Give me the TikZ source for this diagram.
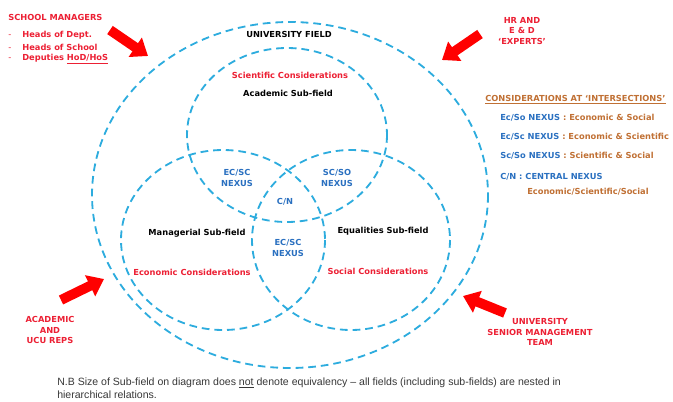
\documentclass[tikz,border=0pt]{standalone}
\usepackage{fontspec}
\setmainfont{Liberation Sans}
\newfontfamily\labelfont[Ligatures=TeX]{DejaVu Sans}
\usetikzlibrary{arrows.meta}
\definecolor{fieldblue}{RGB}{45,172,222}
\definecolor{considred}{RGB}{236,32,52}
\definecolor{arrowred}{RGB}{255,0,0}
\definecolor{nexusblue}{RGB}{42,112,192}
\definecolor{legendbrown}{RGB}{192,112,52}
\definecolor{notegray}{RGB}{55,55,55}

\tikzset{
  field/.style={draw=fieldblue, line width=1.3pt, dash pattern=on 5.5pt off 3.5pt},
  lbl/.style={font=\labelfont\fontsize{5.9}{7.5}\selectfont\bfseries, inner sep=0pt, align=center},
  redlbl/.style={lbl, text=considred},
  nexus/.style={lbl, text=nexusblue},
  keylbl/.style={lbl, anchor=west},
  pusharrow/.style={draw=arrowred, line width=7pt, -{Triangle[width=16pt,length=11pt]}}
}

\begin{document}
\begin{tikzpicture}[x=0.025cm, y=-0.025cm]
    \useasboundingbox (0,0) rectangle (673,402);
    \clip (0,0) rectangle (673,402);

    % fields
    \draw[field] (290,195) ellipse [x radius=198, y radius=173];
    \draw[field] (287,135) ellipse [x radius=100, y radius=87];
    \draw[field] (223,240) ellipse [x radius=102, y radius=90];
    \draw[field] (351,240) ellipse [x radius=99, y radius=90];

    \node[lbl] (univ) at (289,34) {UNIVERSITY FIELD};
    \node[redlbl] (scicons) at (290,75) {Scientific Considerations};
    \node[lbl] (academic) at (288,93) {Academic Sub-field};
    \node[lbl] (managerial) at (197,233) {Managerial Sub-field};
    \node[redlbl] (econcons) at (192,272) {Economic Considerations};
    \node[lbl] (equalities) at (383,231) {Equalities Sub-field};
    \node[redlbl] (socialcons) at (378,271) {Social Considerations};

    % intersections
    \node[nexus] (ecsc) at (237,178) {EC/SC\\NEXUS};
    \node[nexus] (scso) at (337,178) {SC/SO\\NEXUS};
    \node[nexus] (cn) at (285,202) {C/N};
    \node[nexus] (ecsc2) at (288,248) {EC/SC\\NEXUS};

    % groups round the field
    \node[redlbl, anchor=west] (school) at (8,17) {SCHOOL MANAGERS};
    \node[redlbl, anchor=west] (hod) at (8,35) {\makebox[10pt][l]{\mdseries -}Heads of Dept.};
    \node[redlbl, anchor=west] (hos) at (8,47) {\makebox[10pt][l]{\mdseries -}Heads of School};
    \node[redlbl, anchor=west] (deps) at (8,59) {\makebox[10pt][l]{\mdseries -}Deputies \underline{HoD/HoS}};
    \node[redlbl] (hr) at (522,31) {HR AND\\E \& D\\`EXPERTS'};
    \node[redlbl] (ucu) at (50,330) {ACADEMIC\\AND\\UCU REPS};
    \node[redlbl] (senior) at (540,332) {UNIVERSITY\\SENIOR MANAGEMENT\\TEAM};

    \coordinate (tlA) at (110,30);  \coordinate (tlB) at (148,56);
    \coordinate (trA) at (480,34);  \coordinate (trB) at (442,60);
    \coordinate (blA) at (61,300);  \coordinate (blB) at (104,279);
    \coordinate (brA) at (505,313); \coordinate (brB) at (463,296);
    \draw[pusharrow] (tlA) -- (tlB);
    \draw[pusharrow] (trA) -- (trB);
    \draw[pusharrow] (blA) -- (blB);
    \draw[pusharrow] (brA) -- (brB);

    % legend
    \node[keylbl, text=legendbrown] (legend) at (485,100) {\underline{CONSIDERATIONS AT `INTERSECTIONS'}};
    \node[keylbl] (ecso) at (500,118) {\textcolor{nexusblue}{Ec/So NEXUS} \textcolor{legendbrown}{: Economic \& Social}};
    \node[keylbl] (ecscl) at (500,137) {\textcolor{nexusblue}{Ec/Sc NEXUS} \textcolor{legendbrown}{: Economic \& Scientific}};
    \node[keylbl] (scsol) at (500,156) {\textcolor{nexusblue}{Sc/So NEXUS} \textcolor{legendbrown}{: Scientific \& Social}};
    \node[keylbl, text=nexusblue] (central) at (500,177) {C/N : CENTRAL NEXUS};
    \node[keylbl, text=legendbrown] (ess) at (527,192) {Economic/Scientific/Social};

    \node[anchor=west, align=left, inner sep=0pt, text=notegray, font=\fontsize{7.5}{9.2}\selectfont] (note) at (57,388)
      {N.B Size of Sub-field on diagram does \underline{not} denote equivalency -- all fields (including sub-fields) are nested in\\hierarchical relations.};
\end{tikzpicture}
\end{document}
